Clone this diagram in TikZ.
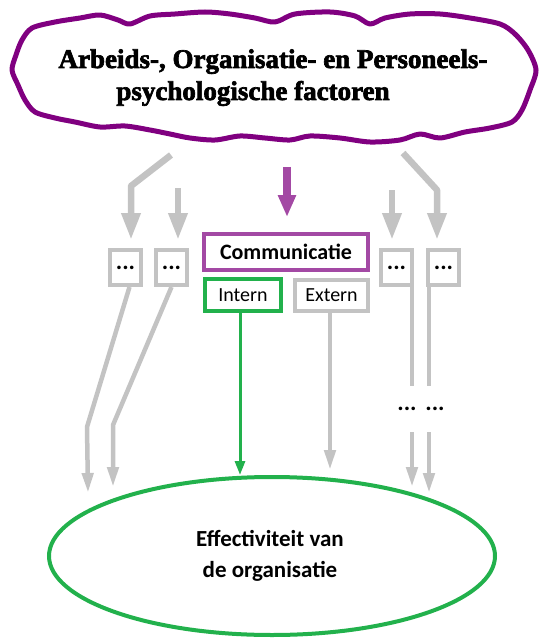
\documentclass[tikz,border=0pt]{standalone}
\usepackage{fontspec}
\setmainfont{Carlito}
\newfontfamily\titlefont[FakeStretch=1.0,FakeBold=2.5]{Liberation Serif}
\usetikzlibrary{arrows.meta,shapes.geometric}
\definecolor{cloudpurple}{HTML}{800080}
\definecolor{compurple}{HTML}{A349A4}
\definecolor{effgreen}{HTML}{22B14C}
\definecolor{linegray}{HTML}{C3C3C3}
\begin{document}
\begin{tikzpicture}[x=1pt,y=-1pt,
  titletext/.style={font=\titlefont\bfseries\fontsize{27}{30}\selectfont,anchor=base,inner sep=0pt},
  dotbox/.style={draw=linegray,line width=4pt,minimum width=31pt,minimum height=35pt,inner sep=0pt,font=\bfseries\fontsize{24}{26}\selectfont},
  combox/.style={draw=compurple,line width=4pt,minimum width=164pt,minimum height=36pt,inner sep=0pt,font=\bfseries\fontsize{22}{24}\selectfont},
  subbox/.style={line width=4pt,minimum height=32pt,inner sep=0pt,font=\fontsize{20}{22}\selectfont},
  effnode/.style={ellipse,draw=effgreen,line width=4pt,minimum width=446pt,minimum height=158pt,inner sep=0pt},
  upgray/.style={draw=linegray,line width=6.5pt,line join=round,-{Triangle[width=18pt,length=27pt]}},
  uppurple/.style={draw=compurple,line width=8pt,-{Triangle[width=17pt,length=22pt]}},
  lowgray/.style={draw=linegray,line width=4.5pt,line join=round},
  lowgrayarrow/.style={lowgray,-{Triangle[width=11pt,length=20pt]}},
  greenarrow/.style={draw=effgreen,line width=3pt,-{Triangle[width=10pt,length=14pt]}},
  dotlabel/.style={font=\bfseries\fontsize{24}{26}\selectfont,inner sep=0pt}
]
\useasboundingbox (0,0) rectangle (544,639);

% wavy outline around the title
\draw[cloudpurple,line width=5pt,line join=round] plot[smooth cycle,tension=0.5] coordinates {
  (22,40) (32,28) (55,22) (80,18) (100,15) (118,20) (130,24) (150,16) (175,14)
  (205,12) (230,14) (255,18) (275,22) (295,14) (330,12) (355,16) (370,24)
  (385,18) (410,14) (440,14) (470,18) (500,24) (515,34) (528,50) (536,70)
  (530,90) (522,110) (512,122) (490,128) (465,132) (440,138) (420,134)
  (400,140) (370,142) (340,138) (310,136) (290,140) (265,138) (240,136)
  (215,140) (190,138) (170,134) (150,130) (125,126) (100,127) (75,122)
  (55,118) (35,112) (25,100) (18,85) (12,70) (16,55)};
\node[titletext] (t1) at (273,68) {Arbeids-, Organisatie- en Personeels-};
\node[titletext] (t2) at (253,100) {psychologische factoren};

% factor boxes
\node[dotbox] (b1) at (125.5,267.5) {...};
\node[dotbox] (b2) at (171.5,267.5) {...};
\node[dotbox] (b3) at (396.5,267.5) {...};
\node[dotbox] (b4) at (443.5,267.5) {...};
\node[combox] (com) at (286,252) {Communicatie};
\node[subbox,draw=effgreen,minimum width=76pt] (int) at (243,295) {Intern};
\node[subbox,draw=linegray,minimum width=73pt,minimum height=31pt] (ext) at (331.5,295.5) {Extern};

% outcome
\node[effnode] (eff) at (272,556) {};
\node[align=center,font=\bfseries\fontsize{23}{31}\selectfont] (efft) at (270,556) {Effectiviteit van\\de organisatie};

% arrows out of the title
\coordinate (a1s) at (171,155);
\coordinate (a1b) at (131,186);
\coordinate (a2s) at (178,188);
\coordinate (a3s) at (392,190);
\coordinate (a4s) at (403,153);
\coordinate (a4b) at (437,190);
\coordinate (ps) at (287,167);
\draw[upgray,shorten >=8pt] (a1s) -- (a1b) -- (a1b |- b1.north);
\draw[upgray,shorten >=8pt] (a2s) -- (a2s |- b2.north);
\draw[upgray,shorten >=8pt] (a3s) -- (a3s |- b3.north);
\draw[upgray,shorten >=8pt] (a4s) -- (a4b) -- (a4b |- b4.north);
\draw[uppurple,shorten >=15pt] (ps) -- (ps |- com.north);

% arrows into the outcome
\coordinate (l1b) at (87,427);
\coordinate (l1e) at (88,493);
\coordinate (l2b) at (113,425);
\coordinate (l2e) at (113,487);
\draw[lowgrayarrow] ([xshift=4pt]b1.south) -- (l1b) -- (l1e);
\draw[lowgrayarrow] ([xshift=0pt]b2.south) -- (l2b) -- (l2e);
\draw[greenarrow] ([xshift=-3pt]int.south) -- ([xshift=-3pt]int.south |- eff.north);
\coordinate (xe) at (330,470);
\draw[lowgrayarrow] (ext.south -| xe) -- (xe);

\node[dotlabel] (d3) at (407,409) {...};
\node[dotlabel] (d4) at (435,409) {...};
\coordinate (r1t) at (412,386);
\coordinate (r1b) at (412,432);
\coordinate (r1e) at (412,487);
\coordinate (r2t) at (429,386);
\coordinate (r2b) at (429,432);
\coordinate (r2e) at (429,493);
\draw[lowgray] (b3.south -| r1t) -- (r1t);
\draw[lowgrayarrow] (r1b) -- (r1e);
\draw[lowgray] (b4.south -| r2t) -- (r2t);
\draw[lowgrayarrow] (r2b) -- (r2e);
\end{tikzpicture}
\end{document}
